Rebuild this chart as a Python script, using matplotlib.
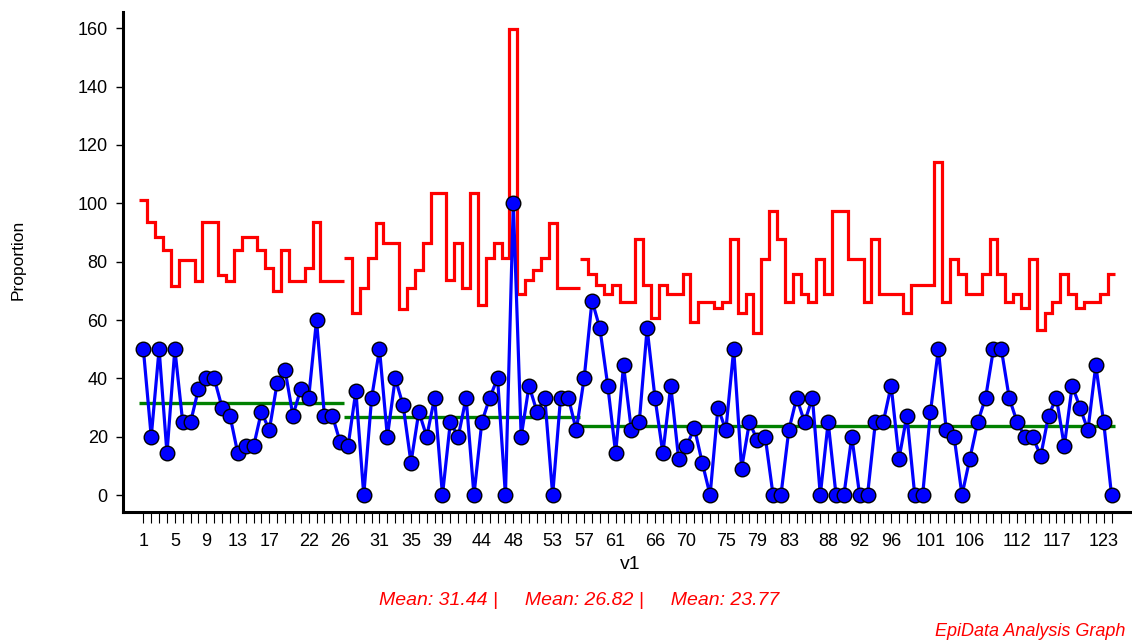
import numpy as np
import matplotlib.pyplot as plt

plt.rcParams['font.family'] = ['Liberation Sans', 'DejaVu Sans']

# proportion (%) per sample
prop = [50, 20, 50, 14.29, 50, 25, 25, 36.36, 40, 40, 30, 27.27, 14.29, 16.67, 16.67,
        28.57, 22.22, 38.46, 42.86, 27.27, 36.36, 33.33, 60, 27.27, 27.27, 18.18,
        16.67, 35.71, 0, 33.33, 50, 20, 40, 30.77, 11.11, 28.57, 20, 33.33, 0, 25,
        20, 33.33, 0, 25, 33.33, 40, 0, 100, 20, 37.5, 28.57, 33.33, 0, 33.33, 33.33, 22.22,
        40, 66.67, 57.14, 37.5, 14.29, 44.44, 22.22, 25, 57.14, 33.33,
        14.29, 37.5, 12.5, 16.67, 23.08, 11.11, 0, 30, 22.22, 50,
        9.09, 25, 18.75, 20, 0, 0, 22.22, 33.33, 25, 33.33,
        0, 25, 0, 0, 20, 0, 0, 25, 25, 37.5,
        12.5, 27.27, 0, 0, 28.57, 50, 22.22, 20, 0, 12.5,
        25, 33.33, 50, 50, 33.33, 25, 20, 20, 13.33, 27.27,
        33.33, 16.67, 37.5, 30, 22.22, 44.44, 25, 0]

# upper control limit per sample (red step line)
ucl = [101.1, 93.7, 88.3, 84.1, 71.7, 80.7, 80.7, 73.4, 93.7, 93.7, 75.5, 73.4, 84.1,
       88.3, 88.3, 84.1, 77.9, 70.1, 84.1, 73.4, 73.4, 77.9, 93.7, 73.4, 73.4, 73.4,
       81.1, 62.3, 71.1, 81.1, 93.3, 86.3, 86.3, 63.7, 71.1, 77.1, 86.3, 103.6, 103.6, 73.8,
       86.3, 71.1, 103.6, 65.2, 81.1, 86.3, 81.1, 159.7, 68.9, 73.8, 77.1, 81.1, 93.3,
       71.1, 71.1, 71.1,
       80.9, 75.9, 72.0, 68.9, 72.0, 66.3, 66.3, 87.6, 72.0, 60.6,
       72.0, 68.9, 68.9, 75.9, 59.2, 66.3, 66.3, 64.2, 66.3, 87.6,
       62.3, 68.9, 55.7, 80.9, 97.5, 87.6, 66.3, 75.9, 68.9, 66.3,
       80.9, 68.9, 97.5, 97.5, 80.9, 80.9, 66.3, 87.6, 68.9, 68.9,
       68.9, 62.3, 72.0, 72.0, 72.0, 114.1, 66.3, 80.9, 75.9, 68.9,
       68.9, 75.9, 87.6, 75.9, 66.3, 68.9, 64.2, 80.9, 56.7, 62.3,
       66.3, 75.9, 68.9, 64.2, 66.3, 66.3, 68.9, 75.9]

segments = [(1, 26), (27, 56), (57, 124)]
seg_means = [31.44, 26.82, 23.77]

tick_labels = [1, 5, 9, 13, 17, 22, 26, 31, 35, 39, 44, 48, 53, 57, 61, 66, 70,
               75, 79, 83, 88, 92, 96, 101, 106, 112, 117, 123]

fig = plt.figure(figsize=(11.32, 6.42), dpi=100)
ax = fig.add_axes([0.1087, 0.2025, 0.8913, 0.7785])

x = np.arange(1, len(prop) + 1)

for (a, b), m in zip(segments, seg_means):
    ax.stairs(ucl[a - 1:b], np.arange(a - 0.5, b + 1), baseline=None,
              color='red', lw=2.3, zorder=2)
    ax.hlines(m, a - 0.5, b + 0.5, color='green', lw=2.4, zorder=2)

ax.plot(x, prop, color='blue', lw=2.3, marker='o', ms=10.5,
        mfc='blue', mec='black', mew=1, zorder=3)

ax.set_xlim(-1.58, 126.6)
ax.set_ylim(-5.8, 165.5)

ax.spines['top'].set_visible(False)
ax.spines['right'].set_visible(False)
for s in ('left', 'bottom'):
    ax.spines[s].set_linewidth(2.2)

ax.set_yticks(np.arange(0, 161, 20))
ax.tick_params(axis='y', direction='out', length=5, width=1, labelsize=13, pad=6)

ax.set_xticks(tick_labels)
ax.set_xticklabels([str(t) for t in tick_labels])
ax.set_xticks(x, minor=True)
ax.tick_params(axis='x', which='both', direction='out', length=8, width=0.8,
               labelsize=13, pad=7)

fig.text(0.5565, 0.120, 'v1', ha='center', va='center', fontsize=14)
fig.text(0.016, 0.595, 'Proportion', ha='center', va='center', rotation=90, fontsize=12.5)
fig.text(0.512, 0.064, 'Mean: 31.44 |     Mean: 26.82 |     Mean: 23.77',
         ha='center', va='center', color='red', style='italic', fontsize=14)
fig.text(0.994, 0.016, 'EpiData Analysis Graph', ha='right', va='center',
         color='red', style='italic', fontsize=13)

fig.savefig('out.png', dpi=100)
